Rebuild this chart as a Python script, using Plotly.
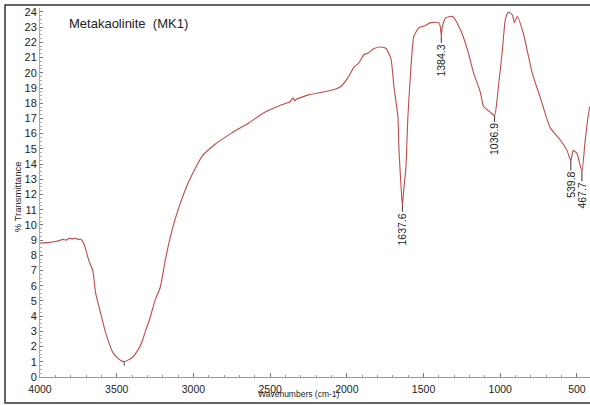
import plotly.graph_objects as go
import numpy as np

# Spectrum (wavenumber cm-1, % transmittance)
wavenumber = [4000, 3970, 3940, 3910, 3880, 3851, 3830, 3810, 3790, 3770, 3750, 3735,
              3721, 3705, 3689, 3672, 3656, 3637, 3620, 3605, 3572,
              3527, 3500, 3475, 3451, 3420, 3397, 3360, 3332, 3310, 3287, 3248, 3216, 3183, 3138,
              3093, 3028, 2944, 2859, 2749, 2639, 2535, 2425, 2370, 2350, 2340, 2330, 2250,
              2146, 2082, 2040, 1991, 1952, 1926, 1887, 1861, 1822, 1777, 1744, 1712,
              1693, 1667, 1660, 1641, 1637.6, 1630, 1615, 1602, 1582, 1563, 1531, 1490,
              1453, 1401, 1390, 1384.3, 1378, 1356, 1310, 1258, 1213, 1174, 1129, 1109,
              1064, 1036.9, 1012, 986, 967, 947, 921, 908, 889, 850, 792, 740, 675, 610,
              565, 539.8, 525, 500, 467.7, 448, 428, 416]
transmittance = [8.8, 8.82, 8.85, 8.9, 8.95, 9.05, 9.0, 9.12, 9.08, 9.12, 9.05, 9.05,
                 8.9, 8.5, 7.9, 7.4, 7.0, 5.5, 4.8, 4.2, 2.9,
                 1.65, 1.3, 1.1, 1.0, 1.15, 1.3, 1.8, 2.4, 3.1, 3.75, 5.1, 5.9, 7.7, 9.7,
                 11.2, 12.9, 14.5, 15.3, 16.05, 16.7, 17.4, 17.9, 18.1, 18.35, 18.15, 18.25, 18.55,
                 18.75, 18.9, 19.1, 19.7, 20.4, 20.6, 21.2, 21.3, 21.6, 21.7, 21.6, 20.9,
                 19.1, 17.1, 14.9, 11.6, 11.3, 12.2, 13.8, 17.1, 20.4, 22.4, 22.95, 23.1,
                 23.3, 23.3, 23.0, 22.4, 23.0, 23.6, 23.7, 22.8, 21.5, 20.0, 18.7, 17.8,
                 17.4, 17.2, 19.1, 21.5, 23.5, 24.0, 23.8, 23.3, 23.7, 22.6, 20.0, 18.4, 16.4, 15.6,
                 14.9, 14.2, 14.9, 14.7, 13.5, 15.4, 17.1, 17.8]

peak_wn = [1637.6, 1384.3, 1036.9, 539.8, 467.7]
peak_labels = ["1637.6", "1384.3", "1036.9", "539.8", "467.7"]
unlabelled_peak_wn = [3451]

x_ticks = [4000, 3500, 3000, 2500, 2000, 1500, 1000, 500]
y_ticks = list(range(0, 25))

fig = go.Figure()
fig.add_trace(go.Scatter(x=wavenumber, y=transmittance, mode="lines",
                         line=dict(color="#c24a4a", width=1.1, shape="spline", smoothing=0.5),
                         hoverinfo="skip"))

wn_arr = np.array(wavenumber)[::-1]
tr_arr = np.array(transmittance)[::-1]
for w, lab in zip(peak_wn, peak_labels):
    yv = float(np.interp(w, wn_arr, tr_arr))
    fig.add_annotation(x=w, y=yv, text=lab, textangle=-90, showarrow=True,
                       arrowhead=0, arrowwidth=1, arrowcolor="#333", ax=0, ay=24,
                       font=dict(family="Liberation Sans", size=10.5, color="#222"))
for w in unlabelled_peak_wn:
    yv = float(np.interp(w, wn_arr, tr_arr))
    fig.add_annotation(x=w, y=yv, text=" ", showarrow=True, arrowhead=0, arrowwidth=1,
                       arrowcolor="#555", ax=0, ay=8, font=dict(size=4))

xtickfont = dict(family="Liberation Sans", size=10.5, color="#222")
ytickfont = dict(family="Liberation Sans", size=11, color="#222")
fig.update_xaxes(range=[4000, 415], tickvals=x_ticks, ticktext=[str(v) for v in x_ticks],
                 showgrid=False, zeroline=False, showline=True, linecolor="#999", linewidth=1,
                 ticks="inside", ticklen=4, tickcolor="#777", ticklabelstandoff=2,
                 minor=dict(dtick=100, ticks="inside", ticklen=2, tickcolor="#999"),
                 tickfont=xtickfont)
fig.update_yaxes(range=[0, 24.26], tickvals=y_ticks, ticktext=[str(v) for v in y_ticks],
                 showgrid=False, zeroline=False, showline=True, linecolor="#aaa", linewidth=1,
                 ticks="inside", ticklen=3, tickcolor="#777",
                 minor=dict(dtick=0.25, ticks="inside", ticklen=1.5, tickcolor="#aaa"),
                 tickfont=ytickfont)

fig.add_annotation(xref="paper", yref="paper", x=0.049, y=0.957, xanchor="left", yanchor="middle",
                   text="Metakaolinite  (MK1)", showarrow=False,
                   font=dict(family="Liberation Sans", size=13, color="#222"))
fig.add_annotation(xref="paper", yref="paper", x=-0.053, y=0.488, textangle=-90,
                   text="% Transmittance", showarrow=False,
                   font=dict(family="Liberation Sans", size=9.5, color="#222"))
fig.add_annotation(xref="paper", yref="paper", x=0.471, y=-0.0645,
                   text="Wavenumbers (cm-1)", showarrow=False,
                   font=dict(family="Liberation Sans", size=8.5, color="#222"))

# outer picture frame
fig.add_shape(type="rect", xref="paper", yref="paper", x0=-0.0636, x1=1.05, y0=-0.0705, y1=1.0081,
              line=dict(color="#333", width=1.5))

fig.update_layout(width=590, height=405, margin=dict(l=40, r=0, t=8, b=28),
                  paper_bgcolor="white", plot_bgcolor="white", showlegend=False)
fig.write_html("out.html")
